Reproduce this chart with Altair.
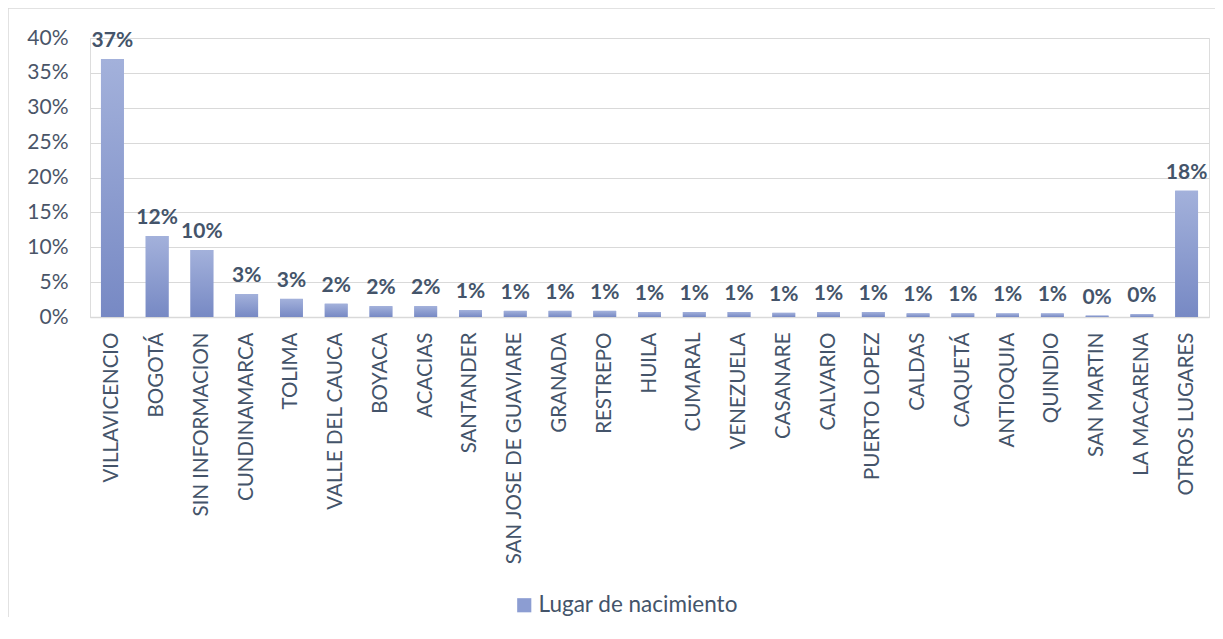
import altair as alt
import pandas as pd

categories = [
    "VILLAVICENCIO", "BOGOTÁ", "SIN INFORMACION", "CUNDINAMARCA", "TOLIMA",
    "VALLE DEL CAUCA", "BOYACA", "ACACIAS", "SANTANDER", "SAN JOSE DE GUAVIARE",
    "GRANADA", "RESTREPO", "HUILA", "CUMARAL", "VENEZUELA", "CASANARE",
    "CALVARIO", "PUERTO LOPEZ", "CALDAS", "CAQUETÁ", "ANTIOQUIA", "QUINDIO",
    "SAN MARTIN", "LA MACARENA", "OTROS LUGARES",
]
values = [
    0.370, 0.116, 0.096, 0.033, 0.026,
    0.019, 0.0155, 0.0155, 0.010, 0.0088,
    0.0088, 0.0088, 0.0072, 0.0072, 0.0072, 0.0060,
    0.0072, 0.0072, 0.0052, 0.0052, 0.0051, 0.0051,
    0.0020, 0.0040, 0.181,
]
series_name = "Lugar de nacimiento"
y_ticks = [0, 0.05, 0.10, 0.15, 0.20, 0.25, 0.30, 0.35, 0.40]

df = pd.DataFrame({"lugar": categories, "pct": values, "serie": series_name})

FONT = "Lato"
TEXT_COLOR = "#44546A"
AXIS_COLOR = "#4A5568"

x_enc = alt.X("lugar:N", sort=categories, title=None,
              scale=alt.Scale(paddingInner=0.49, paddingOuter=0.245),
              axis=alt.Axis(labelAngle=-90, labelFontSize=20.5, labelFont=FONT,
                            labelColor=TEXT_COLOR, labelPadding=15, ticks=False,
                            domainColor="#D9D9D9", domainWidth=1.5, grid=False,
                            labelLimit=400))
y_enc = alt.Y("pct:Q", title=None,
              scale=alt.Scale(domain=[0, 0.4], nice=False),
              axis=alt.Axis(values=y_ticks, format=".0%", labelFontSize=21,
                            labelFont=FONT, labelColor=AXIS_COLOR, ticks=False,
                            domain=False, gridColor="#D9D9D9", gridWidth=1.2,
                            labelPadding=22))

base = alt.Chart(df)

legend_bars = base.mark_bar().encode(
    x=x_enc, y=y_enc,
    color=alt.Color("serie:N", title=None,
                    scale=alt.Scale(range=["#8C9DD2"]),
                    legend=alt.Legend(orient="none", legendX=423, legendY=556,
                                      symbolType="square", symbolSize=200,
                                      symbolStrokeWidth=0, labelOffset=3,
                                      labelFontSize=22.5, labelFont=FONT,
                                      labelColor=TEXT_COLOR, labelLimit=400)),
)

grad = alt.Gradient(
    gradient="linear",
    stops=[alt.GradientStop(color="#A3B1DB", offset=0),
           alt.GradientStop(color="#7789C4", offset=1)],
    x1=0, x2=0, y1=0, y2=1,
)
grad_bars = base.mark_bar(color=grad).encode(x=x_enc, y=y_enc)

labels = base.mark_text(fontSize=21, font=FONT, fontWeight="bold",
                        color=TEXT_COLOR, baseline="alphabetic", dy=-12).encode(
    x=x_enc, y=y_enc, text=alt.Text("pct:Q", format=".0%"))

frame = alt.Chart(pd.DataFrame({"f": [0]})).mark_rect(
    fill=None, stroke="#D9D9D9", strokeWidth=1.5).encode(
    x=alt.value(-82), x2=alt.value(1400), y=alt.value(-30), y2=alt.value(900))

chart = alt.layer(frame, legend_bars, grad_bars, labels).properties(
    width=1119, height=279,
    padding={"left": 82, "top": 30, "right": 6, "bottom": 300},
    autosize=alt.AutoSizeParams(type="none"),
).configure_view(stroke=None).configure(background="white")

chart.save("out.html", embed_options={"renderer": "svg", "actions": False})
